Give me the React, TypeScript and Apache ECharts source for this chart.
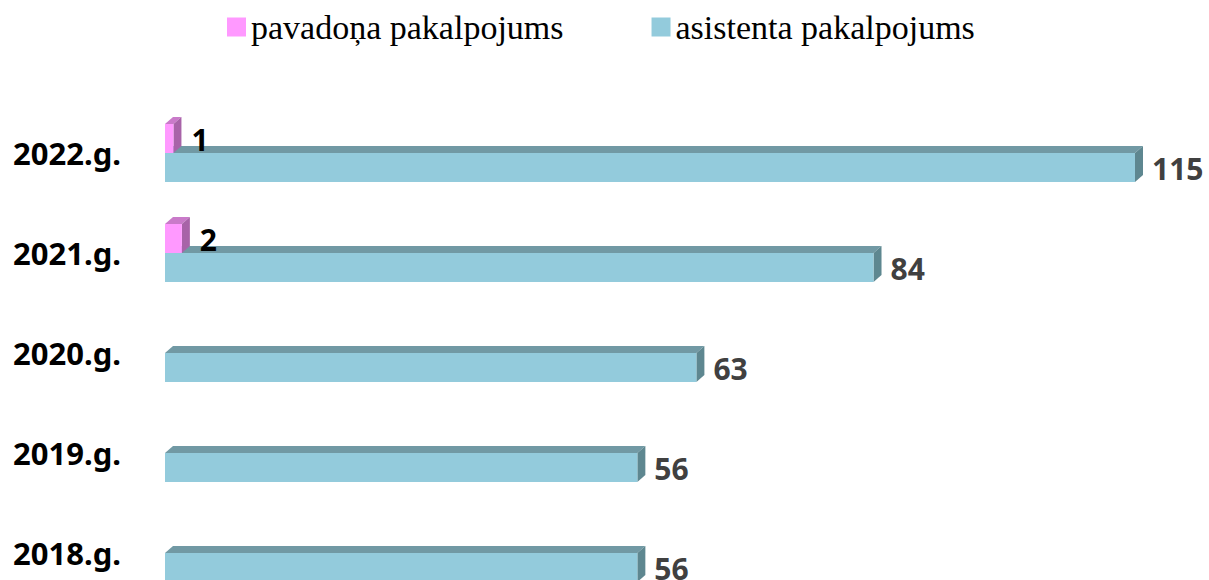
import React, { useEffect, useRef } from "react";
import * as echarts from "echarts";

const categories = ["2018.g.", "2019.g.", "2020.g.", "2021.g.", "2022.g."];
const seriesNames = ["pavadoņa pakalpojums", "asistenta pakalpojums"];
const pavadona: (number | null)[] = [null, null, null, 2, 1];
const asistenta: number[] = [56, 56, 63, 84, 115];

const PINK = { front: "#FF99FF", top: "#C97AC9", side: "#A863A8", label: "#000000" };
const BLUE = { front: "#93CBDC", top: "#7199A4", side: "#5E8790", label: "#404040" };

const BAR_H = 29;
const DX = 8;
const DY = 7;

function makeRender(colors: typeof PINK, above: boolean, labelGap: number) {
  return (params: any, api: any) => {
    const v = api.value(0);
    const c = api.value(1);
    if (v == null || isNaN(v)) return null;
    const s = api.coord([0, c]);
    const e = api.coord([v, c]);
    const x0 = s[0];
    const x1 = e[0];
    const y0 = above ? s[1] - BAR_H : s[1];
    const y1 = above ? s[1] : s[1] + BAR_H;
    return {
      type: "group",
      children: [
        {
          type: "polygon",
          shape: { points: [[x0, y0], [x0 + DX, y0 - DY], [x1 + DX, y0 - DY], [x1, y0]] },
          style: { fill: colors.top },
        },
        {
          type: "polygon",
          shape: { points: [[x1, y0], [x1 + DX, y0 - DY], [x1 + DX, y1 - DY], [x1, y1]] },
          style: { fill: colors.side },
        },
        {
          type: "rect",
          shape: { x: x0, y: y0, width: x1 - x0, height: y1 - y0 },
          style: { fill: colors.front },
        },
        {
          type: "text",
          x: x1 + labelGap,
          y: (y0 + y1) / 2 + 1,
          style: {
            text: String(v),
            fill: colors.label,
            font: "bold 30px 'Noto Sans'",
            verticalAlign: "middle",
            align: "left",
          },
        },
      ],
    };
  };
}

export default function App() {
  const ref = useRef<HTMLDivElement>(null);
  useEffect(() => {
    document.body.style.margin = "0";
    if (!ref.current) return;
    const chart = echarts.init(ref.current, null, { renderer: "svg" });
    const pinkData = pavadona.map((v, i) => [v, i]);
    const blueData = asistenta.map((v, i) => [v, i]);
    chart.setOption({
      animation: false,
      backgroundColor: "#ffffff",
      legend: {
        data: seriesNames,
        left: 222,
        top: 5,
        icon: "rect",
        itemWidth: 19,
        itemHeight: 19,
        itemGap: 88,
        textStyle: {
          fontFamily: "'Liberation Serif'",
          fontSize: 34,
          lineHeight: 34,
          color: "#000000",
        },
      },
      grid: { left: 165, right: 74, top: 103, height: 500 },
      xAxis: { type: "value", min: 0, max: 115, show: false },
      yAxis: {
        type: "category",
        data: categories,
        axisLine: { show: false },
        axisTick: { show: false },
        splitLine: { show: false },
        axisLabel: {
          margin: 44,
          fontFamily: "'Noto Sans'",
          fontWeight: "bold",
          fontSize: 31,
          color: "#000000",
          padding: [24, 0, 0, 0],
        },
      },
      series: [
        {
          name: seriesNames[0],
          type: "custom",
          z: 3,
          itemStyle: { color: PINK.front },
          renderItem: makeRender(PINK, true, 18),
          encode: { x: 0, y: 1 },
          data: pinkData,
        },
        {
          name: seriesNames[1],
          type: "custom",
          z: 2,
          itemStyle: { color: BLUE.front },
          renderItem: makeRender(BLUE, false, 17),
          encode: { x: 0, y: 1 },
          data: blueData,
        },
      ],
    });
    return () => chart.dispose();
  }, []);
  return (
    <div style={{ width: 1209, height: 580, overflow: "hidden" }}>
      <div ref={ref} style={{ width: 1209, height: 640 }} />
    </div>
  );
}
